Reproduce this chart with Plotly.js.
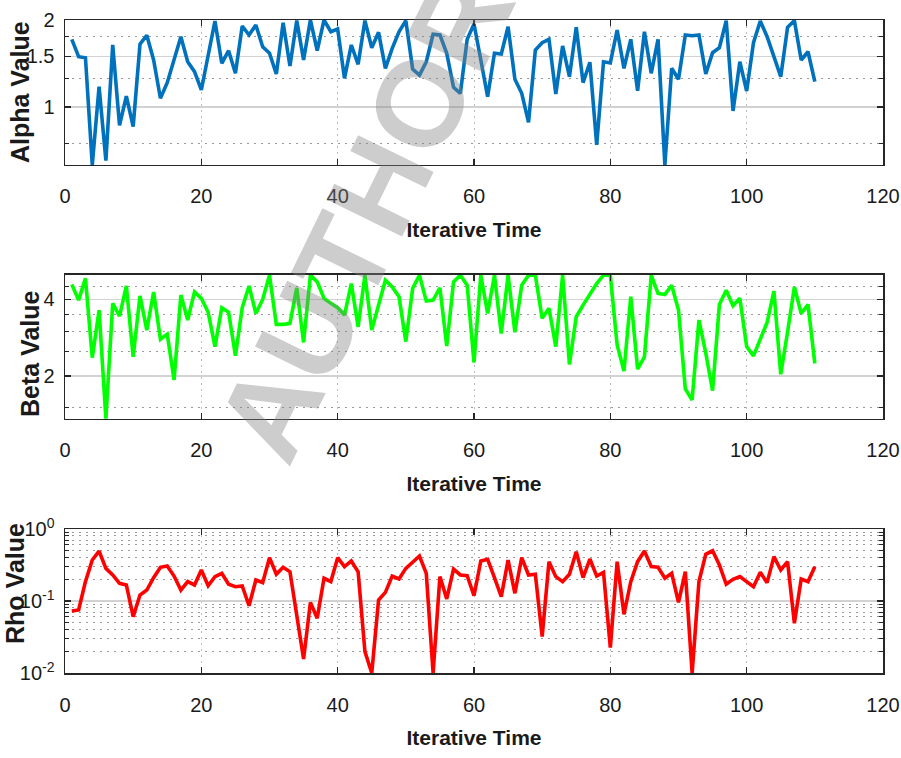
<!DOCTYPE html>
<html>
<head>
<meta charset="utf-8">
<script src="https://cdn.plot.ly/plotly-3.0.1.min.js"></script>
<style>
  html, body { margin: 0; padding: 0; background: #ffffff; }
  #chart { width: 901px; height: 758px; }
</style>
</head>
<body>
<div id="chart"></div>
<script>
// ---------------- data ----------------
const iterations = [1,2,3,4,5,6,7,8,9,10,11,12,13,14,15,16,17,18,19,20,
  21,22,23,24,25,26,27,28,29,30,31,32,33,34,35,36,37,38,39,40,
  41,42,43,44,45,46,47,48,49,50,51,52,53,54,55,56,57,58,59,60,
  61,62,63,64,65,66,67,68,69,70,71,72,73,74,75,76,77,78,79,80,
  81,82,83,84,85,86,87,88,89,90,91,92,93,94,95,96,97,98,99,100,
  101,102,103,104,105,106,107,108,109,110];

const alphaValues = [1.715,1.493,1.481,0.630,1.175,0.652,1.639,0.864,1.091,0.855,
  1.648,1.771,1.454,1.072,1.214,1.454,1.751,1.434,1.325,1.145,
  1.513,1.984,1.416,1.566,1.308,1.907,1.775,1.922,1.617,1.534,
  1.301,1.957,1.386,1.990,1.454,2.000,1.566,2.000,1.822,1.862,
  1.257,1.639,1.405,1.990,1.604,1.813,1.361,1.596,1.822,1.990,
  1.353,1.290,1.434,1.785,1.775,1.534,1.169,1.115,1.715,1.937,
  1.454,1.085,1.534,1.525,1.896,1.247,1.115,0.885,1.575,1.669,
  1.715,1.109,1.626,1.273,1.887,1.214,1.428,0.739,1.434,1.420,
  1.847,1.361,1.715,1.138,1.822,1.308,1.715,0.630,1.361,1.247,
  1.775,1.765,1.775,1.301,1.541,1.604,1.990,0.969,1.434,1.135,
  1.669,1.984,1.751,1.493,1.273,1.887,1.990,1.454,1.553,1.223];

const betaValues = [4.58,3.975,4.84,2.36,3.63,1.36,3.86,3.44,4.52,2.38,
  4.13,3.03,4.28,2.79,2.92,1.93,4.16,3.32,4.28,4.04,
  3.56,2.61,3.71,3.56,2.40,3.71,4.52,3.52,4.00,4.98,
  3.19,3.19,3.22,4.44,2.71,4.98,4.69,4.04,3.86,3.71,
  3.47,4.62,3.12,4.98,3.03,3.80,4.76,4.48,4.10,2.73,
  4.42,4.98,3.94,3.975,4.44,2.62,4.69,4.98,4.55,2.26,
  4.98,3.52,4.98,2.94,4.98,2.97,4.55,4.98,4.98,3.37,
  3.69,2.61,4.98,2.22,3.42,3.80,4.16,4.62,4.98,4.98,
  2.65,2.09,4.10,2.13,2.38,4.98,4.22,4.18,4.55,3.63,
  1.78,1.61,3.32,2.46,1.75,3.82,4.35,3.78,4.04,2.61,
  2.40,2.81,3.25,4.31,2.03,2.98,4.48,3.52,3.82,2.24];

const rhoValues = [0.0726,0.075,0.186,0.371,0.494,0.284,0.23,0.176,0.167,0.0605,
  0.121,0.142,0.211,0.294,0.306,0.222,0.142,0.186,0.167,0.27,
  0.163,0.218,0.242,0.171,0.158,0.162,0.086,0.196,0.18,0.40,
  0.235,0.294,0.255,0.064,0.0156,0.0958,0.0575,0.207,0.186,0.40,
  0.30,0.36,0.255,0.0198,0.01,0.103,0.132,0.222,0.202,0.284,
  0.352,0.422,0.242,0.01,0.218,0.107,0.278,0.23,0.225,0.119,
  0.36,0.38,0.211,0.115,0.371,0.128,0.40,0.23,0.235,0.032,
  0.352,0.218,0.186,0.235,0.484,0.211,0.383,0.222,0.25,0.0225,
  0.352,0.0653,0.186,0.352,0.494,0.30,0.294,0.207,0.242,0.0958,
  0.255,0.01,0.186,0.445,0.50,0.316,0.171,0.20,0.218,0.186,
  0.158,0.25,0.18,0.413,0.27,0.352,0.049,0.202,0.186,0.30];

const xTickVals = [0,20,40,60,80,100,120];
const alphaTickVals = [1,1.5,2];
const alphaTickText = ['1','1.5','2'];
const alphaMinorVals = [0.75,1.25,1.75];
const betaTickVals = [2,4];
const betaTickText = ['2','4'];
const betaMinorVals = [1.5,2.5,3,3.5,4.5];
const rhoTickVals = [0.01,0.1,1];
const rhoTickText = ['10<sup>-2</sup>','10<sup>-1</sup>','10<sup>0</sup>'];
const rhoMinorVals = [0.02,0.03,0.04,0.05,0.06,0.07,0.08,0.09,0.2,0.3,0.4,0.5,0.6,0.7,0.8,0.9];

const xTitle = 'Iterative Time';
const yTitles = ['Alpha Value', 'Beta Value', 'Rho Value'];
const watermark = 'AUTHOR';

// ---------------- styling ----------------
const SANS = 'Liberation Sans, Arial, Helvetica, sans-serif';
const AX = '#262626';
const TXT = '#1a1a1a';

function xAxis(anchor) {
  return {
    anchor: anchor, domain: [0, 1], range: [0, 120],
    tickmode: 'array', tickvals: xTickVals,
    ticks: 'inside', ticklen: 6, tickwidth: 1.2, tickcolor: AX,
    showline: true, linecolor: AX, linewidth: 1.5, mirror: 'ticks',
    showgrid: true, gridcolor: '#bdbdbd', griddash: '2px,4px', gridwidth: 1,
    zeroline: false, automargin: false, ticklabeloverflow: 'allow',
    tickfont: { family: SANS, size: 20, color: TXT },
    ticklabelstandoff: 13,
    title: { text: '<b>' + xTitle + '</b>', font: { family: SANS, size: 21, color: TXT }, standoff: 16 }
  };
}

function yAxis(anchor, domain, range, tv, tt, minorVals) {
  return {
    anchor: anchor, domain: domain, type: 'log', range: range,
    tickmode: 'array', tickvals: tv, ticktext: tt,
    ticks: 'inside', ticklen: 6, tickwidth: 1.2, tickcolor: AX,
    showline: true, linecolor: AX, linewidth: 1.5, mirror: 'ticks',
    showgrid: true, gridcolor: '#d2d2d2', gridwidth: 1.2,
    zeroline: false, automargin: false, ticklabeloverflow: 'allow',
    minor: {
      tickmode: 'array', tickvals: minorVals,
      ticks: 'inside', ticklen: 4, tickwidth: 1, tickcolor: AX,
      showgrid: true, gridcolor: '#9a9a9a', griddash: '2px,5px', gridwidth: 1
    },
    tickfont: { family: SANS, size: 20, color: TXT },
    ticklabelstandoff: 5
  };
}

function yTitle(text, x, y) {
  return { text: '<b>' + text + '</b>', xref: 'paper', yref: 'paper', x: x, y: y,
    xanchor: 'center', yanchor: 'middle', showarrow: false, textangle: -90,
    font: { family: SANS, size: 25, color: TXT } };
}

const traces = [
  { x: iterations, y: alphaValues, xaxis: 'x', yaxis: 'y', type: 'scatter', mode: 'lines',
    line: { color: '#0072BD', width: 3.6 } },
  { x: iterations, y: betaValues, xaxis: 'x2', yaxis: 'y2', type: 'scatter', mode: 'lines',
    line: { color: '#00FF00', width: 3.6 } },
  { x: iterations, y: rhoValues, xaxis: 'x3', yaxis: 'y3', type: 'scatter', mode: 'lines',
    line: { color: '#FF0000', width: 3.6 } }
];

const layout = {
  width: 901, height: 758,
  margin: { l: 65, r: 18, t: 20, b: 85 },
  paper_bgcolor: '#ffffff', plot_bgcolor: '#ffffff',
  showlegend: false,
  xaxis: xAxis('y'),
  xaxis2: xAxis('y2'),
  xaxis3: xAxis('y3'),
  yaxis: yAxis('x', [0.778, 1], [Math.log10(0.63), Math.log10(2.0)], alphaTickVals, alphaTickText, alphaMinorVals),
  yaxis2: yAxis('x2', [0.389, 0.6095], [Math.log10(1.355), Math.log10(4.99)], betaTickVals, betaTickText, betaMinorVals),
  yaxis3: yAxis('x3', [0, 0.2205], [-2, 0], rhoTickVals, rhoTickText, rhoMinorVals),
  annotations: [
    yTitle(yTitles[0], -0.0550, 0.8897),
    yTitle(yTitles[1], -0.0428, 0.490),
    yTitle(yTitles[2], -0.0612, 0.1378),
    { text: watermark, xref: 'paper', yref: 'paper', x: 0.367, y: 0.70,
      xanchor: 'center', yanchor: 'middle', showarrow: false, textangle: -64,
      font: { family: SANS, size: 122, weight: 'bold', color: 'rgba(130,130,130,0.40)' } }
  ]
};

Plotly.newPlot('chart', traces, layout, { staticPlot: true, displayModeBar: false });
</script>
</body>
</html>
